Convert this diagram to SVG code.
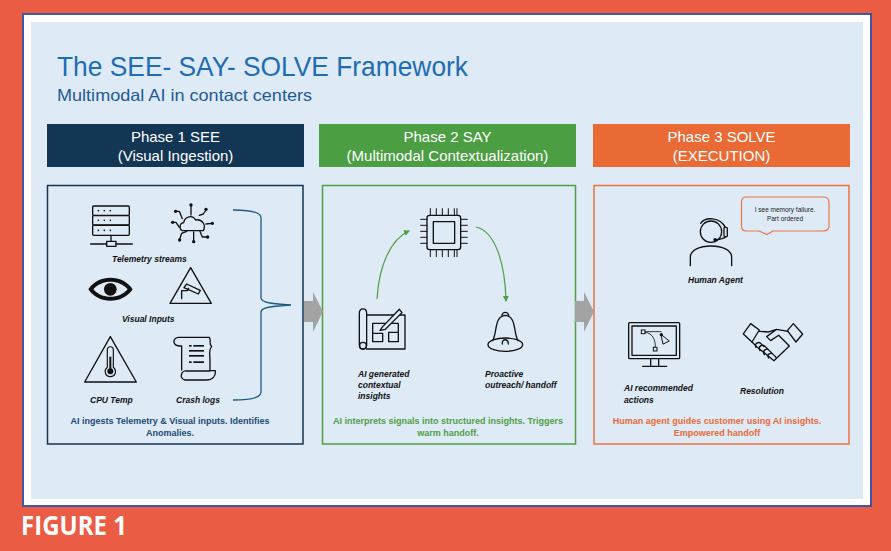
<svg xmlns="http://www.w3.org/2000/svg" width="891" height="551" viewBox="0 0 891 551">
<style>
text{font-family:"Liberation Sans",Arial,sans-serif}
.hd{fill:#fff;font-size:15px;text-anchor:middle}
.lb{fill:#111;font-size:8.5px;font-weight:700;font-style:italic}
.cap{font-size:9px;font-weight:700;text-anchor:middle}
.box{fill:none;stroke-width:1.5}
.ic{fill:none;stroke:#111;stroke-width:4;stroke-linejoin:round;stroke-linecap:round}
.f{fill:#111;stroke:none}
.arr{fill:#a3a3a3}
.gr{fill:none;stroke:#4e9f45;stroke-width:1.2}
</style>
<defs>
<marker id="ah" markerWidth="7" markerHeight="7" refX="5" refY="3" orient="auto" markerUnits="userSpaceOnUse"><path d="M0 0L6 3L0 6Z" fill="#4e9f45"/></marker>
</defs>
<rect width="891" height="551" fill="#ea5c43"/>
<rect x="23" y="14" width="848" height="492" fill="#fff" stroke="#3f56a6" stroke-width="2"/>
<rect x="31" y="22" width="832" height="477" fill="#deeaf6"/>
<text x="57" y="76" font-size="27.5" fill="#1f6cb3" textLength="411" lengthAdjust="spacingAndGlyphs">The SEE- SAY- SOLVE Framework</text>
<text x="57" y="101" font-size="16.5" fill="#1f5a96" textLength="255" lengthAdjust="spacingAndGlyphs">Multimodal AI in contact centers</text>
<text x="21" y="535" font-size="26" font-weight="700" fill="#fff" style="font-family:'Open Sans',sans-serif" textLength="106" lengthAdjust="spacingAndGlyphs">FIGURE 1</text>

<g id="phase1">
<rect x="47" y="124" width="257" height="43" fill="#133655"/>
<text class="hd" x="175.500" y="142">Phase 1 SEE</text>
<text class="hd" x="175.500" y="161">(Visual Ingestion)</text>
<rect class="box" x="47.500" y="185.500" width="255.500" height="258.500" stroke="#133655"/>
<text class="cap" x="170" y="424" fill="#1d4a73">AI ingests Telemetry &amp; Visual inputs. Identifies</text>
<text class="cap" x="170" y="436" fill="#1d4a73">Anomalies.</text>
</g>
<g id="phase2">
<rect x="319" y="124" width="257" height="43" fill="#4c9e43"/>
<text class="hd" x="447.500" y="142">Phase 2 SAY</text>
<text class="hd" x="447.500" y="161">(Multimodal Contextualization)</text>
<rect class="box" x="322.500" y="185.500" width="253" height="258.500" stroke="#4e9f45"/>
<text class="cap" x="448" y="424" fill="#4e9f45">AI interprets signals into structured insights. Triggers</text>
<text class="cap" x="448" y="436" fill="#4e9f45">warm handoff.</text>
</g>
<g id="phase3">
<rect x="593" y="124" width="257" height="43" fill="#e96a35"/>
<text class="hd" x="721.500" y="142">Phase 3 SOLVE</text>
<text class="hd" x="721.500" y="161">(EXECUTION)</text>
<rect class="box" x="594" y="185.500" width="255" height="258.500" stroke="#ea7440"/>
<text class="cap" x="717" y="424" fill="#e96a35">Human agent guides customer using AI insights.</text>
<text class="cap" x="717" y="436" fill="#e96a35">Empowered handoff</text>
</g>

<g id="connectors">
<path d="M233 210C245 210 261 211 261 218V298C261 303 275 304 291 305C275 306 261 307 261 312V392C261 399 245 400 233 400" fill="none" stroke="#1d5a80" stroke-width="1.3"/>
<path class="arr" d="M304 301H313V292L323 311.500L313 332V322H304Z"/>
<path class="arr" d="M575 301H584V292L594 311.500L584 332V322H575Z"/>
<path class="gr" marker-end="url(#ah)" d="M377 299C379 265 391 239 409 231"/>
<path class="gr" marker-end="url(#ah)" d="M476 227C494 231 505 260 506 301"/>
</g>

<g id="telemetry">
<g transform="translate(30 170) scale(.3333)">
<g class="ic"><rect x="188" y="108" width="110" height="28" rx="3"/><rect x="188" y="137" width="110" height="28" rx="3"/><rect x="188" y="166" width="110" height="30" rx="3"/><path d="M243 196V214M182 222H230M258 222H307"/><rect x="230" y="214" width="28" height="15"/></g>
<g class="f"><circle cx="205" cy="122" r="2.500"/><circle cx="223" cy="122" r="2.500"/><circle cx="241" cy="122" r="2.500"/><circle cx="205" cy="151" r="2.500"/><circle cx="223" cy="151" r="2.500"/><circle cx="241" cy="151" r="2.500"/><circle cx="205" cy="181" r="2.500"/><circle cx="223" cy="181" r="2.500"/><circle cx="241" cy="181" r="2.500"/></g>
<g class="ic" stroke-width="3"><path d="M462 182C446 182 447 160 461 158C464 140 488 132 497 150C515 146 530 165 520 182Z"/><path d="M483 107V135M528 120L520 132L508 136M437 124H448L457 146M430 157H438L448 172M546 160L528 162M449 208L455 190L470 184M491 214V186M532 201H517L510 184"/></g>
<g class="f"><circle cx="483" cy="105" r="5"/><circle cx="528" cy="118" r="5"/><circle cx="437" cy="124" r="5"/><circle cx="428" cy="157" r="5"/><circle cx="547" cy="160" r="5"/><circle cx="449" cy="210" r="5"/><circle cx="491" cy="215" r="5"/><circle cx="533" cy="201" r="5"/></g>
</g>
<text class="lb" x="112" y="261.500">Telemetry streams</text>
</g>

<g id="visual-inputs">
<g transform="translate(30 170) scale(.3333)">
<path class="f" fill-rule="evenodd" d="M175 358C205 312 278 312 308 358C278 404 205 404 175 358ZM190 358C215 388 268 388 293 358C268 328 215 328 190 358Z"/>
<circle class="f" cx="241" cy="358" r="19"/>
<g class="ic" stroke-width="3"><path d="M482 293L544 400H420Z"/><path d="M462 353L505 372L511 361L470 342ZM455 386V362H472L476 355"/></g>
</g>
<text class="lb" x="122" y="321.500">Visual Inputs</text>
</g>

<g id="cpu-temp">
<g transform="translate(30 170) scale(.3333)">
<g class="ic"><path d="M241 500L319 636H164Z"/><path d="M232 592V540C232 527 250 527 250 540V592C262 602 256 620 241 620C226 620 220 602 232 592Z" stroke-width="3.500"/></g>
<circle class="f" cx="241" cy="604" r="9"/><rect class="f" x="238" y="560" width="6" height="40"/>
</g>
<text class="lb" x="90" y="402.500">CPU Temp</text>
</g>

<g id="crash-logs">
<g transform="translate(30 170) scale(.3333)">
<g class="ic"><path d="M445 502H538C545 510 535 520 545 530C535 540 540 555 540 570V602H556C558 625 540 630 530 630H465C445 625 455 600 470 603H540M445 502C425 505 427 530 455 528V600"/></g>
<g class="f"><rect x="490" y="525" width="32" height="5"/><rect x="477" y="525" width="8" height="5"/><rect x="477" y="540" width="45" height="5"/><rect x="477" y="555" width="45" height="5"/><rect x="477" y="574" width="8" height="5"/><rect x="490" y="574" width="32" height="5"/></g>
</g>
<text class="lb" x="176" y="402.500">Crash logs</text>
</g>

<g id="cpu">
<g transform="translate(310 170) scale(.3333)">
<g class="ic"><rect x="351" y="136" width="101" height="103" rx="8"/><rect x="370" y="155" width="64" height="65" stroke-width="4"/><path d="M361 116V136M379 116V136M397 116V136M415 116V136M433 116V136M441 116V136M361 240V260M379 240V260M397 240V260M415 240V260M433 240V260M441 240V260M332 148H351M332 166H351M332 184H351M332 202H351M332 220H351M452 148H472M452 166H472M452 184H472M452 202H472M452 220H472" stroke-width="3"/></g>
</g>
</g>

<g id="ai-insights">
<g transform="translate(310 170) scale(.3333)">
<g class="ic" stroke-width="3.500"><path d="M170 435H285V537H170"/><path d="M148 430C148 412 170 412 170 430V525C170 543 148 540 148 525Z"/><circle cx="159" cy="527" r="10"/><path d="M188 460H226M244 460H265V487H236M188 460V515H218V490H188M236 490V515H265V490"/><path d="M218 470L268 418L276 428L226 478L210 481Z" fill="#deeaf6"/></g>
</g>
<text class="lb" x="358" y="376.500">AI generated</text>
<text class="lb" x="358" y="387.500">contextual</text>
<text class="lb" x="358" y="398.500">insights</text>
</g>

<g id="outreach">
<g transform="translate(310 170) scale(.3333)">
<g class="ic" stroke-width="3"><path d="M548 512C562 490 552 438 586 436C620 438 610 490 624 512"/><ellipse cx="586" cy="524" rx="52" ry="20"/><path d="M576 436C578 424 594 424 596 436M577 522C575 505 595 505 595 522"/></g>
</g>
<text class="lb" x="485" y="376.500">Proactive</text>
<text class="lb" x="485" y="387.500">outreach/ handoff</text>
</g>

<g id="human-agent">
<g transform="translate(580 170) scale(.3333)">
<g class="ic" stroke-width="3"><circle cx="393" cy="185" r="32"/><path d="M362 160C375 140 420 140 436 172M331 287V262C331 240 360 228 393 228C426 228 455 240 455 262V287"/><rect x="432" y="172" width="10" height="28" rx="3"/><path d="M438 200C432 206 420 208 405 209"/></g>
<circle class="f" cx="405" cy="209" r="5"/>
</g>
<text class="lb" x="688" y="282.500">Human Agent</text>
</g>

<g id="speech-bubble">
<path d="M746 197H823C827 197 829 199 829 202V226C829 229 827 231 823 231H773L767 234.500L759 231H746C743 231 741.500 229 741.500 226V202C741.500 199 743 197 746 197Z" fill="#deeaf6" stroke="#ea7440" stroke-width="1.200"/>
<text x="785" y="212" font-size="6.500" fill="#222" text-anchor="middle">I see memory failure.</text>
<text x="785" y="221" font-size="6.500" fill="#222" text-anchor="middle">Part ordered</text>
</g>

<g id="recommended-actions">
<g transform="translate(580 170) scale(.3333)">
<g class="ic" stroke-width="3.500"><rect x="146" y="458" width="153" height="108" rx="3"/><rect x="156" y="468" width="133" height="88"/><path d="M212 566V589M236 566V589M188 589H260"/><path d="M193 485H243M195 487C220 490 226 510 226 532" stroke-width="2.500"/><path d="M244 494L268 513L250 522Z" stroke-width="3"/></g>
<rect x="184" y="480" width="11" height="11" fill="#deeaf6" stroke="#111" stroke-width="3"/><rect x="220" y="532" width="11" height="11" fill="#deeaf6" stroke="#111" stroke-width="3"/><circle class="f" cx="244" cy="494" r="5"/>
</g>
<text class="lb" x="624" y="391">AI recommended</text>
<text class="lb" x="624" y="402.500">actions</text>
</g>

<g id="resolution">
<g transform="translate(580 170) scale(.3333)">
<g class="ic" stroke-width="3.500"><path d="M490 492L512 461L538 480L516 516Z"/><path d="M668 492L640 461L622 482L648 516Z"/><path d="M536 484L566 486L590 478L624 484M590 478L560 500L572 512L596 496L628 528L582 572L530 530L516 516"/><path d="M528 532C522 522 536 512 544 522L552 530M540 542C532 530 548 520 556 530L566 540M553 554C546 542 560 532 568 542L576 550M566 564C558 552 574 546 580 554L588 562"/></g>
</g>
<text class="lb" x="740" y="393.500">Resolution</text>
</g>
</svg>
